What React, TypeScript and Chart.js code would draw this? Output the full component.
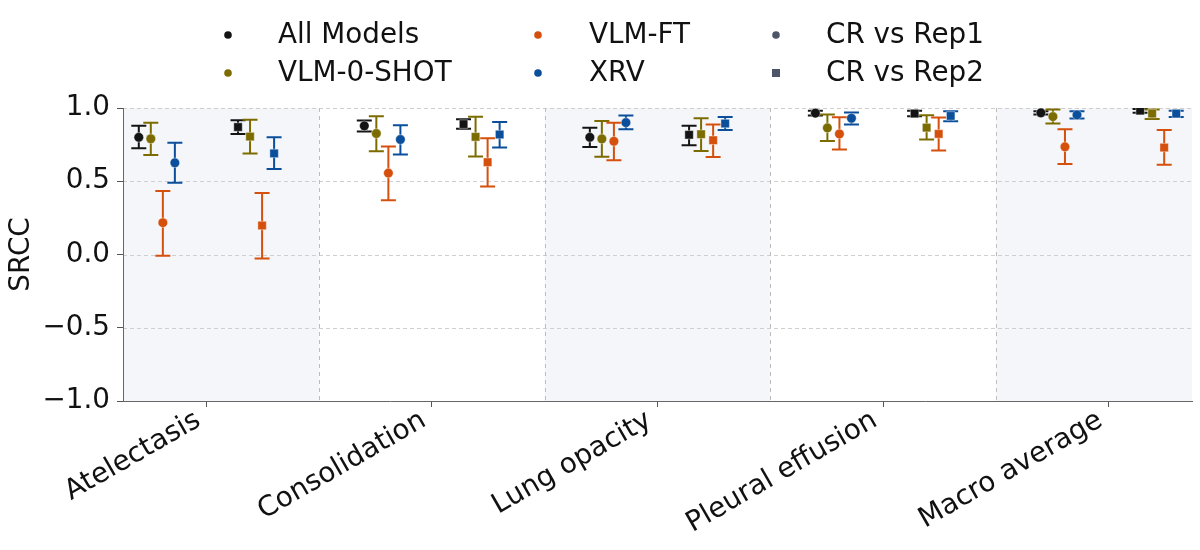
import React, { useEffect, useRef } from 'react';
import { Chart, registerables } from 'chart.js';

Chart.register(...registerables);

const categories = ['Atelectasis', 'Consolidation', 'Lung opacity', 'Pleural effusion', 'Macro average'];
const models = ['All Models', 'VLM-0-SHOT', 'VLM-FT', 'XRV'];
const comparisons = ['CR vs Rep1', 'CR vs Rep2'];
const yTicks = [-1.0, -0.5, 0.0, 0.5, 1.0];

// All Models
const allModelsRep1 = [0.80, 0.878, 0.80, 0.965, 0.967];
const allModelsRep1Low = [0.726, 0.84, 0.733, 0.948, 0.955];
const allModelsRep1High = [0.878, 0.914, 0.866, 0.982, 0.978];
const allModelsRep2 = [0.87, 0.89, 0.817, 0.962, 0.982];
const allModelsRep2Low = [0.823, 0.858, 0.746, 0.944, 0.967];
const allModelsRep2High = [0.917, 0.924, 0.878, 0.982, 0.994];

// VLM-0-SHOT
const zeroShotRep1 = [0.79, 0.826, 0.789, 0.864, 0.941];
const zeroShotRep1Low = [0.68, 0.705, 0.667, 0.774, 0.894];
const zeroShotRep1High = [0.90, 0.944, 0.912, 0.955, 0.99];
const zeroShotRep2 = [0.805, 0.803, 0.821, 0.866, 0.962];
const zeroShotRep2Low = [0.69, 0.669, 0.707, 0.785, 0.925];
const zeroShotRep2High = [0.92, 0.94, 0.93, 0.951, 0.99];

// VLM-FT
const fineTunedRep1 = [0.217, 0.556, 0.773, 0.823, 0.735];
const fineTunedRep1Low = [-0.008, 0.371, 0.644, 0.716, 0.617];
const fineTunedRep1High = [0.433, 0.737, 0.90, 0.937, 0.855];
const fineTunedRep2 = [0.198, 0.63, 0.78, 0.823, 0.73];
const fineTunedRep2Low = [-0.027, 0.464, 0.665, 0.71, 0.612];
const fineTunedRep2High = [0.42, 0.794, 0.887, 0.935, 0.849];

// XRV
const xrvRep1 = [0.626, 0.785, 0.90, 0.93, 0.953];
const xrvRep1Low = [0.49, 0.682, 0.855, 0.887, 0.928];
const xrvRep1High = [0.762, 0.883, 0.948, 0.969, 0.978];
const xrvRep2 = [0.69, 0.819, 0.894, 0.946, 0.962];
const xrvRep2Low = [0.583, 0.73, 0.849, 0.91, 0.939];
const xrvRep2High = [0.80, 0.905, 0.939, 0.978, 0.982];

const seriesTable = [
  { model: 0, comp: 0, mean: allModelsRep1, low: allModelsRep1Low, high: allModelsRep1High },
  { model: 1, comp: 0, mean: zeroShotRep1, low: zeroShotRep1Low, high: zeroShotRep1High },
  { model: 2, comp: 0, mean: fineTunedRep1, low: fineTunedRep1Low, high: fineTunedRep1High },
  { model: 3, comp: 0, mean: xrvRep1, low: xrvRep1Low, high: xrvRep1High },
  { model: 0, comp: 1, mean: allModelsRep2, low: allModelsRep2Low, high: allModelsRep2High },
  { model: 1, comp: 1, mean: zeroShotRep2, low: zeroShotRep2Low, high: zeroShotRep2High },
  { model: 2, comp: 1, mean: fineTunedRep2, low: fineTunedRep2Low, high: fineTunedRep2High },
  { model: 3, comp: 1, mean: xrvRep2, low: xrvRep2Low, high: xrvRep2High },
];

// styling / layout constants
const modelColors = ['#141414', '#7c6c00', '#d5500d', '#0b4f9c'];
const compColor = '#4e5568';
const compStyles = ['circle', 'rect'];
const compRadius = [4.8, 6];
const groupOffset = [-0.22, 0.22];
const modelOffset = [-0.08, -0.0267, 0.0267, 0.08];
const FONT = '"DejaVu Sans", sans-serif';
const FONT_SIZE = 27.8;

const decorPlugin = {
  id: 'decor',
  beforeDraw(chart: any) {
    const { ctx, chartArea: a, scales } = chart;
    const x = scales.x;
    const y = scales.y;
    ctx.save();
    ctx.beginPath();
    ctx.rect(a.left, a.top, a.right - a.left, a.bottom - a.top);
    ctx.clip();
    ctx.fillStyle = '#f4f6f9';
    categories.forEach((_, i) => {
      if (i % 2 === 0) {
        const l = x.getPixelForValue(i - 0.5);
        const r = x.getPixelForValue(i + 0.5);
        ctx.fillRect(l, a.top, r - l, a.bottom - a.top);
      }
    });
    ctx.lineWidth = 1;
    ctx.strokeStyle = '#cfcfcf';
    ctx.setLineDash([4, 3]);
    yTicks.forEach((v) => {
      if (v > -1) {
        const py = Math.round(y.getPixelForValue(v)) + 0.5;
        ctx.beginPath();
        ctx.moveTo(a.left, py);
        ctx.lineTo(a.right, py);
        ctx.stroke();
      }
    });
    ctx.strokeStyle = '#bdbdbd';
    ctx.setLineDash([4, 4]);
    for (let i = 0; i < categories.length - 1; i++) {
      const px = Math.round(x.getPixelForValue(i + 0.5)) + 0.5;
      ctx.beginPath();
      ctx.moveTo(px, a.top);
      ctx.lineTo(px, a.bottom);
      ctx.stroke();
    }
    ctx.restore();
  },
  beforeDatasetsDraw(chart: any) {
    const { ctx, scales } = chart;
    const y = scales.y;
    const cap = 7.5;
    ctx.save();
    ctx.lineWidth = 2;
    chart.data.datasets.forEach((ds: any, di: number) => {
      const meta = chart.getDatasetMeta(di);
      ctx.strokeStyle = ds.borderColor;
      meta.data.forEach((pt: any, j: number) => {
        const yl = y.getPixelForValue(ds.low[j]);
        const yh = y.getPixelForValue(ds.high[j]);
        const px = pt.x;
        ctx.beginPath();
        ctx.moveTo(px, yl);
        ctx.lineTo(px, yh);
        ctx.moveTo(px - cap, yl);
        ctx.lineTo(px + cap, yl);
        ctx.moveTo(px - cap, yh);
        ctx.lineTo(px + cap, yh);
        ctx.stroke();
      });
    });
    ctx.restore();
  },
  afterDraw(chart: any) {
    const { ctx } = chart;
    const items = [
      { label: models[0], color: modelColors[0], style: 'circle', col: 0, row: 0 },
      { label: models[1], color: modelColors[1], style: 'circle', col: 0, row: 1 },
      { label: models[2], color: modelColors[2], style: 'circle', col: 1, row: 0 },
      { label: models[3], color: modelColors[3], style: 'circle', col: 1, row: 1 },
      { label: comparisons[0], color: compColor, style: 'circle', col: 2, row: 0 },
      { label: comparisons[1], color: compColor, style: 'rect', col: 2, row: 1 },
    ];
    const markerX = [228, 538, 776];
    const textX = [278, 589, 826];
    const rowY = [35, 73];
    ctx.save();
    ctx.font = FONT_SIZE + 'px ' + FONT;
    ctx.textBaseline = 'middle';
    ctx.textAlign = 'left';
    items.forEach((it) => {
      const mx = markerX[it.col];
      const my = rowY[it.row];
      ctx.fillStyle = it.color;
      if (it.style === 'circle') {
        ctx.beginPath();
        ctx.arc(mx, my, 3.8, 0, Math.PI * 2);
        ctx.fill();
      } else {
        ctx.fillRect(mx - 4, my - 4, 8, 8);
      }
      ctx.fillStyle = '#111111';
      ctx.fillText(it.label, textX[it.col], my + 1);
    });
    ctx.restore();
  },
};

export default function App() {
  const ref = useRef<HTMLCanvasElement | null>(null);
  useEffect(() => {
    if (!ref.current) return;
    Chart.defaults.font.family = FONT;
    const datasets = seriesTable.map((s) => ({
      label: models[s.model] + ' / ' + comparisons[s.comp],
      data: categories.map((_, i) => ({ x: i + groupOffset[s.comp] + modelOffset[s.model], y: s.mean[i] })),
      low: s.low,
      high: s.high,
      backgroundColor: modelColors[s.model],
      borderColor: modelColors[s.model],
      pointStyle: compStyles[s.comp],
      pointRadius: compRadius[s.comp],
      pointHoverRadius: compRadius[s.comp],
      pointBorderWidth: 0.6,
      pointBorderColor: 'rgba(255,255,255,0.7)',
      showLine: false,
    }));
    const chart = new Chart(ref.current, {
      type: 'scatter',
      data: { datasets } as any,
      plugins: [decorPlugin],
      options: {
        animation: false,
        responsive: true,
        maintainAspectRatio: false,
        layout: { padding: { top: 108, right: 8, left: 0, bottom: 0 } },
        plugins: { legend: { display: false }, tooltip: { enabled: false } },
        scales: {
          x: {
            type: 'linear',
            min: -0.37,
            max: 4.37,
            afterBuildTicks: (scale: any) => {
              scale.ticks = categories.map((_, i) => ({ value: i }));
            },
            afterFit: (scale: any) => {
              scale.height = 149;
            },
            grid: { drawOnChartArea: false, drawTicks: true, tickLength: 6, tickColor: '#555555', tickWidth: 1 },
            border: { color: '#666666', width: 1 },
            ticks: {
              autoSkip: false,
              maxRotation: 30,
              minRotation: 30,
              padding: -3,
              labelOffset: -8,
              color: '#111111',
              font: { size: FONT_SIZE, family: FONT },
              callback: (v: any) => categories[Math.round(Number(v))] ?? '',
            },
          },
          y: {
            type: 'linear',
            min: -1,
            max: 1,
            afterFit: (scale: any) => {
              scale.width = 123;
            },
            grid: { drawOnChartArea: false, drawTicks: true, tickLength: 6, tickColor: '#555555', tickWidth: 1 },
            border: { color: '#666666', width: 1 },
            title: { display: true, text: 'SRCC', color: '#111111', font: { size: FONT_SIZE, family: FONT }, padding: { top: 5, bottom: 0 } },
            ticks: {
              stepSize: 0.5,
              padding: 7,
              color: '#111111',
              font: { size: FONT_SIZE, family: FONT },
              callback: (v: any) => {
                const n = Number(v);
                return (n < 0 ? '\u2212' : '') + Math.abs(n).toFixed(1);
              },
            },
          },
        },
      } as any,
    });
    return () => chart.destroy();
  }, []);
  return (
    <div style={{ position: 'fixed', left: 0, top: 0, width: 1200, height: 550 }}>
      <canvas ref={ref} />
    </div>
  );
}
